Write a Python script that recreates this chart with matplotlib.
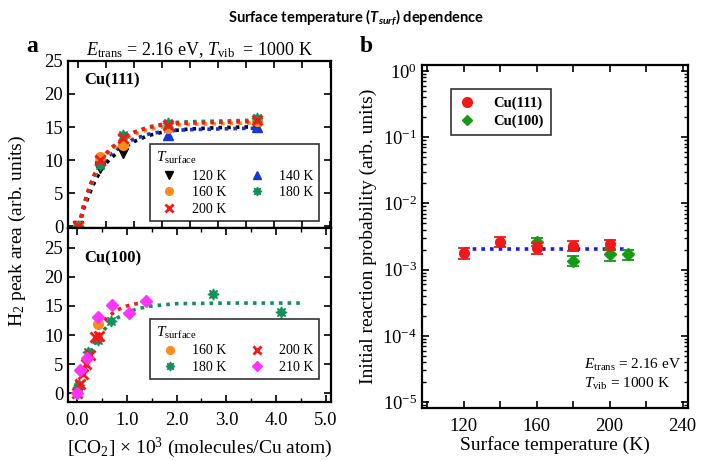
import numpy as np
import matplotlib
matplotlib.use("Agg")
import matplotlib.pyplot as plt
from matplotlib import ticker
from matplotlib.lines import Line2D

plt.rcParams['font.family'] = ['Liberation Serif', 'DejaVu Serif']
plt.rcParams['mathtext.fontset'] = 'custom'
plt.rcParams['mathtext.rm'] = 'Liberation Serif'
plt.rcParams['mathtext.it'] = 'Liberation Serif:italic'
plt.rcParams['mathtext.bf'] = 'Liberation Serif:bold'
plt.rcParams['mathtext.sf'] = 'Lato:italic:bold'

# ---- panel a, Cu(111): measured points ----
x111 = {120: [0.0, 0.4, 0.8, 3.2],
        140: [0.0, 0.4, 0.8, 1.6, 3.2],
        160: [0.0, 0.4, 0.8, 1.6, 3.2],
        180: [0.0, 0.4, 0.8, 1.6, 3.2],
        200: [0.0, 0.4, 0.8, 1.6, 3.2]}
y111 = {120: [0.0, 8.8, 11.0, 15.3],
        140: [0.0, 10.5, 13.0, 13.8, 15.0],
        160: [0.0, 10.4, 12.2, 14.8, 15.9],
        180: [0.0, 9.3, 13.8, 15.6, 16.3],
        200: [0.0, 10.0, 13.3, 15.3, 16.1]}
# fitted curves
fit111_x = [0.02, 0.1, 0.2, 0.3, 0.4, 0.5, 0.6, 0.8, 1.0, 1.25, 1.5, 1.75, 2.0, 2.5, 3.0, 3.2]
fit111_y = {120: [0.0, 2.6, 4.8, 6.8, 8.3, 9.5, 10.4, 11.8, 12.8, 13.7, 14.2, 14.5, 14.7, 14.9, 15.0, 15.0],
            140: [0.0, 3.0, 5.5, 7.5, 9.0, 10.2, 11.0, 12.3, 13.2, 13.9, 14.3, 14.5, 14.6, 14.7, 14.8, 14.8],
            160: [0.0, 3.0, 5.6, 7.7, 9.3, 10.6, 11.5, 12.9, 13.9, 14.6, 15.0, 15.3, 15.4, 15.5, 15.6, 15.6],
            180: [0.0, 3.1, 5.7, 7.9, 9.6, 10.9, 11.8, 13.2, 14.2, 15.0, 15.4, 15.7, 15.8, 15.9, 16.0, 16.0],
            200: [0.0, 3.2, 5.9, 8.0, 9.7, 11.0, 11.9, 13.2, 14.2, 14.9, 15.3, 15.5, 15.6, 15.7, 15.8, 15.8]}

# ---- panel a, Cu(100): measured points ----
x100 = {160: [0.42],
        180: [0.02, 0.05, 0.22, 0.42, 0.68, 2.73, 4.1],
        200: [0.0, 0.07, 0.13, 0.18, 0.26, 0.36, 0.44],
        210: [0.0, 0.06, 0.2, 0.42, 0.7, 1.04, 1.38]}
y100 = {160: [11.9],
        180: [1.0, 1.5, 7.1, 9.1, 12.4, 17.1, 14.0],
        200: [0.0, 1.6, 3.3, 5.0, 6.5, 9.7, 9.9],
        210: [0.0, 4.0, 6.0, 13.1, 15.2, 13.8, 15.9]}
fit100_red_x = [0.0, 0.1, 0.2, 0.3, 0.4, 0.5, 0.6, 0.8, 1.0, 1.2, 1.45]
fit100_red_y = [0.0, 2.5, 5.0, 7.5, 10.0, 11.8, 13.0, 14.3, 15.0, 15.4, 15.6]
fit100_green_x = [0.0, 0.1, 0.2, 0.3, 0.4, 0.5, 0.6, 0.8, 1.0, 1.2, 1.5, 2.0, 3.0, 4.5]
fit100_green_y = [0.0, 2.8, 5.5, 7.5, 9.2, 10.5, 11.4, 12.9, 13.8, 14.5, 15.0, 15.4, 15.5, 15.5]

# ---- panel b ----
t111 = [120, 140, 160, 180, 200]
p111 = [1.8e-3, 2.65e-3, 2.15e-3, 2.3e-3, 2.4e-3]
e111 = [0.35e-3, 0.45e-3, 0.4e-3, 0.4e-3, 0.4e-3]
t100 = [160, 180, 200, 210]
p100 = [2.65e-3, 1.37e-3, 1.7e-3, 1.7e-3]
e100 = [0.4e-3, 0.25e-3, 0.35e-3, 0.3e-3]
avg_t = [120, 210]
avg_p = [2.08e-3, 2.08e-3]

colors = {120: 'black', 140: '#1438d8', 160: '#ff8c1a', 180: '#13915a', 200: '#ff1414', 210: '#ff33ff'}
markers = {120: 'v', 140: '^', 160: 'o', 180: (8, 1, 0), 200: 'x', 210: 'D'}
msize = {120: 7, 140: 7, 160: 7, 180: 8, 200: 7, 210: 6}
dots = (0, (1.0, 1.4))

fig = plt.figure(figsize=(7.12, 4.61), dpi=100)
ax1 = fig.add_axes([0.0955, 0.5054, 0.3694, 0.3623])
ax2 = fig.add_axes([0.0955, 0.128, 0.3694, 0.3774])
ax3 = fig.add_axes([0.5927, 0.115, 0.3736, 0.744])


def style(ax):
    ax.tick_params(which='both', direction='in', top=True, right=True, labelsize=13.5)
    ax.tick_params(which='major', length=5, width=1.2)
    ax.tick_params(which='minor', length=3, width=1)
    ax.tick_params(axis='x', pad=7)
    for s in ax.spines.values():
        s.set_linewidth(1.6)


# Cu(111)
handles = {}
for t in [120, 140, 160, 180, 200]:
    ax1.plot(fit111_x, fit111_y[t], linestyle=dots, color=colors[t], lw=2.6)
for t in [120, 140, 160, 180, 200]:
    h, = ax1.plot(x111[t], y111[t], linestyle='none', marker=markers[t], color=colors[t],
                  ms=msize[t], mew=2 if t == 200 else 1)
    handles[t] = h
ax1.set_xlim(-0.18, 4.52)
ax1.set_ylim(-0.3, 25)
ax1.xaxis.set_major_locator(ticker.MultipleLocator(0.5))
ax1.yaxis.set_major_locator(ticker.MultipleLocator(5))
style(ax1)
ax1.tick_params(labelbottom=False)
ax1.text(0.06, 0.86, 'Cu(111)', transform=ax1.transAxes, fontsize=12, fontweight='bold')
order = [120, 160, 200, 140, 180]
leg = ax1.legend([handles[t] for t in order], ['%d K' % t for t in order], ncol=2,
                 title=r'$T_{\rm surface}$', loc='lower right', bbox_to_anchor=(0.98, 0.0),
                 fontsize=10, title_fontsize=11, frameon=True, fancybox=False,
                 edgecolor='black', handletextpad=0.6, columnspacing=1.2, labelspacing=0.25,
                 borderpad=0.4, markerscale=0.8)
leg._legend_box.align = 'left'
leg.get_frame().set_linewidth(1.2)
ax1.set_title(r'$E_{\rm trans}$ = 2.16 eV, $T_{\rm vib}$  = 1000 K', fontsize=13, pad=4)

# Cu(100)
ax2.plot(fit100_red_x, fit100_red_y, linestyle=dots, color=colors[200], lw=2.6)
ax2.plot(fit100_green_x, fit100_green_y, linestyle=dots, color=colors[180], lw=2.6)
h100 = {}
for t in [160, 180, 200, 210]:
    h, = ax2.plot(x100[t], y100[t], linestyle='none', marker=markers[t], color=colors[t],
                  ms=msize[t], mew=2 if t == 200 else 1)
    h100[t] = h
ax2.set_xlim(-0.18, 5.1)
ax2.set_ylim(-1.5, 28.4)
ax2.xaxis.set_major_locator(ticker.MultipleLocator(1.0))
ax2.xaxis.set_minor_locator(ticker.MultipleLocator(0.5))
ax2.xaxis.set_major_formatter(ticker.FormatStrFormatter('%.1f'))
ax2.set_yticks([0, 5, 10, 15, 20, 25])
style(ax2)
ax2.text(0.06, 0.8, 'Cu(100)', transform=ax2.transAxes, fontsize=12, fontweight='bold')
leg2 = ax2.legend([h100[t] for t in [160, 180, 200, 210]], ['%d K' % t for t in [160, 180, 200, 210]],
                  ncol=2, title=r'$T_{\rm surface}$', loc='lower right', bbox_to_anchor=(0.98, 0.09),
                  fontsize=10, title_fontsize=11, frameon=True, fancybox=False,
                  edgecolor='black', handletextpad=0.6, columnspacing=1.2, labelspacing=0.25,
                  borderpad=0.4, markerscale=0.8)
leg2._legend_box.align = 'left'
leg2.get_frame().set_linewidth(1.2)
ax2.set_xlabel(r'[CO$_2$] × 10$^3$ (molecules/Cu atom)', fontsize=14, labelpad=5)
fig.text(0.025, 0.50, r'H$_2$ peak area (arb. units)', rotation=90, fontsize=14,
         ha='center', va='center')

# panel b
ax3.plot(avg_t, avg_p, linestyle=dots, color='#1a1aff', lw=2.6, zorder=1)
ax3.errorbar(t111, p111, yerr=e111, fmt='o', color='#f01818', ms=7, capsize=4,
             elinewidth=1.3, capthick=1.3, zorder=3)
ax3.errorbar(t100, p100, yerr=e100, fmt='D', color='#159a15', ms=6, capsize=4,
             elinewidth=1.3, capthick=1.3, zorder=2)
ax3.set_yscale('log')
ax3.set_ylim(10 ** -5.09, 10 ** 0.09)
ax3.set_xlim(97, 243)
ax3.xaxis.set_major_locator(ticker.MultipleLocator(40))
ax3.xaxis.set_minor_locator(ticker.MultipleLocator(20))
ax3.yaxis.set_major_locator(ticker.LogLocator(base=10, numticks=10))
ax3.yaxis.set_minor_locator(ticker.LogLocator(base=10, subs=np.arange(2, 10), numticks=10))
ax3.yaxis.set_minor_formatter(ticker.NullFormatter())
style(ax3)
ax3.tick_params(which='minor', axis='x', length=5, width=1.2)
leg_handles = [Line2D([], [], ls='none', marker='o', color='#f01818', ms=7),
               Line2D([], [], ls='none', marker='D', color='#159a15', ms=5)]
leg3 = ax3.legend(leg_handles, ['Cu(111)', 'Cu(100)'], loc='upper left',
                  bbox_to_anchor=(0.08, 0.95), fontsize=10.5, frameon=True, fancybox=False,
                  edgecolor='black', handletextpad=1.2, handlelength=1.2,
                  borderpad=0.5, labelspacing=0.3)
for txt in leg3.get_texts():
    txt.set_fontweight('bold')
leg3.get_frame().set_linewidth(1.2)
ax3.text(0.61, 0.115, r'$E_{\rm trans}$ = 2.16 eV', transform=ax3.transAxes, fontsize=11)
ax3.text(0.61, 0.06, r'$T_{\rm vib}$ = 1000 K', transform=ax3.transAxes, fontsize=11)
ax3.set_xlabel('Surface temperature (K)', fontsize=14, labelpad=1)
ax3.set_ylabel('Initial reaction probability (arb. units)', fontsize=14, labelpad=4)

fig.text(0.045, 0.9, 'a', fontsize=17, fontweight='bold', ha='center', va='center')
fig.text(0.514, 0.9, 'b', fontsize=17, fontweight='bold', ha='center', va='center')
fig.text(0.5, 0.963, r'Surface temperature ($\mathsf{T_{surf}}$) dependence', fontsize=10.5,
         fontfamily='Lato', fontweight='bold', ha='center', va='center')

fig.savefig('out.png', dpi=100)
